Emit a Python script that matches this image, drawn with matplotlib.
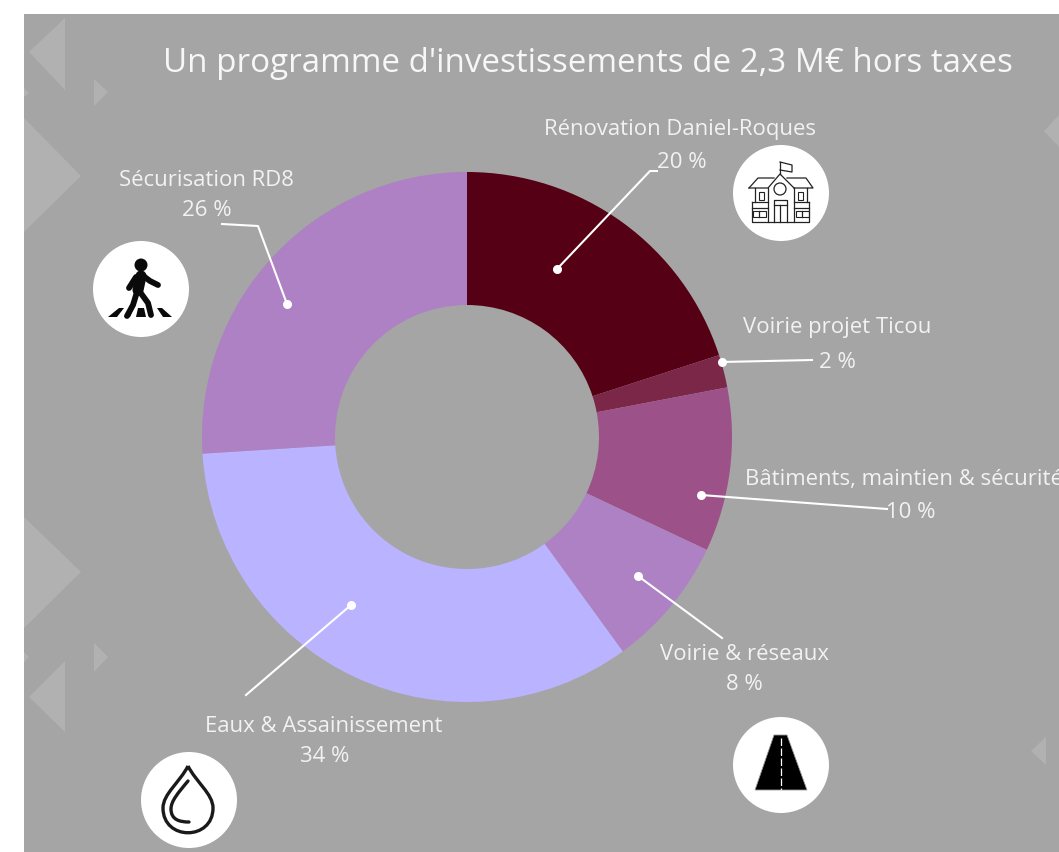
import matplotlib
matplotlib.use('Agg')
import matplotlib.pyplot as plt
from matplotlib.patches import Circle, Polygon, PathPatch
from matplotlib.path import Path

W, H = 1059, 852

title = "Un programme d'investissements de 2,3 M€ hors taxes"
names = ['Rénovation Daniel-Roques', 'Voirie projet Ticou', 'Bâtiments, maintien & sécurité',
         'Voirie & réseaux', 'Eaux & Assainissement', 'Sécurisation RD8']
shares = [20, 2, 10, 8, 34, 26]
colors = ['#550014', '#7a2748', '#9c5289', '#ae80c4', '#bab3ff', '#ae80c4']

plt.rcParams['font.family'] = ['Open Sans', 'DejaVu Sans']


def y(py):
    # picture pixels run downwards, the axes upwards
    return H - py


def pts(*xy):
    return [(a, y(b)) for a, b in xy]


def stroke(seg, **kw):
    p = pts(*seg)
    ax.plot([q[0] for q in p], [q[1] for q in p], **kw)


fig = plt.figure(figsize=(W / 100, H / 100), dpi=100, facecolor='white')
ax = fig.add_axes([0, 0, 1, 1])

# Grey slide background and its faint shapes
ax.add_patch(plt.Rectangle((24, 0), W - 24, H - 14, color='#a5a5a5', lw=0, zorder=0))
faint = [
    ((65, 18), (65, 90), (29, 52)),
    ((94, 79), (94, 106), (108, 92)),
    ((24, 118), (81, 176), (24, 232)),
    ((24, 88), (29, 93), (24, 97)),
    ((24, 517), (81, 572), (24, 628)),
    ((94, 643), (94, 672), (108, 657)),
    ((65, 661), (65, 732), (29, 697)),
    ((24, 652), (29, 657), (24, 662)),
    ((1059, 115), (1044, 131), (1059, 147)),
    ((1046, 737), (1046, 765), (1031, 751)),
]
for tri in faint:
    ax.add_patch(Polygon(pts(*tri), color='#b1b1b1', lw=0, zorder=1))

# Donut
ax.pie(shares, colors=colors, startangle=90, counterclock=False,
       center=(467, y(437)), radius=265, frame=True,
       wedgeprops={'width': 133, 'linewidth': 0, 'zorder': 2})
ax.set_xlim(0, W)
ax.set_ylim(0, H)
ax.axis('off')

ax.text(588, y(63), title, color='#f7f7f7', fontsize=23.9, ha='center', va='center')

# Leader lines, the dot sits inside the slice
leaders = [
    [(557, 269), (650, 171), (657, 171)],
    [(722, 362), (812, 360)],
    [(701, 495), (887, 509)],
    [(638, 576), (722, 638)],
    [(351, 605), (246, 695)],
    [(287, 304), (258, 226), (222, 224)],
]
for line in leaders:
    stroke(line, color='white', lw=1.5, zorder=3)
    p = pts(line[0])[0]
    ax.plot(p[0], p[1], 'o', color='white', ms=6.5, mew=0, zorder=3)

name_pos = [(680, 129), (837, 328), (745, 480), (744, 654), (324, 727), (206, 181)]
share_pos = [(682, 163), (837, 363), (911, 513), (744, 684), (325, 756), (207, 210)]
text_col = '#f2f2f2'
for i, name in enumerate(names):
    ha = 'left' if i == 2 else 'center'
    ax.text(name_pos[i][0], y(name_pos[i][1]), name, color=text_col, fontsize=15.9,
            ha=ha, va='center', clip_on=True)
    ax.text(share_pos[i][0], y(share_pos[i][1]), f'{shares[i]} %', color=text_col,
            fontsize=15.9, ha='center', va='center')

# White icon discs
for cx, cy in [(781, 193), (141, 289), (189, 800), (781, 765)]:
    ax.add_patch(Circle((cx, y(cy)), 48, color='white', lw=0, zorder=4))

# Pedestrian
ink = '#0a0a0a'
ax.add_patch(Circle((141, y(265)), 6.5, color=ink, lw=0, zorder=5))
stroke([(141, 276), (138, 290)], color=ink, lw=8, solid_capstyle='round', zorder=5)
for seg in [[(142, 275), (150, 281), (158, 285)], [(136, 277), (129, 288)],
            [(137, 292), (133, 305), (127, 316)], [(140, 292), (148, 303), (151, 315)]]:
    stroke(seg, color=ink, lw=4.2, solid_capstyle='round', zorder=5)
for stripe in [((108, 317), (119, 308), (124, 308), (117, 317)),
               ((124, 317), (130, 308), (134, 308), (130, 317)),
               ((136, 317), (138, 308), (144, 308), (146, 317)),
               ((157, 308), (162, 308), (172, 317), (163, 317))]:
    ax.add_patch(Polygon(pts(*stripe), color=ink, lw=0, zorder=5))

# School
line_col = '#222222'
school = [
    [(749, 188), (758, 178), (774, 178)],
    [(787, 178), (806, 178), (813, 188), (794, 188)],
    [(749, 188), (768, 188), (780, 174), (794, 188)],
    [(768, 188), (768, 222), (794, 222), (794, 188)],
    [(780, 174), (780, 162)],
    [(780, 162), (792, 165), (792, 172), (780, 170)],
    [(755, 188), (755, 202)],
    [(807, 188), (807, 202)],
    [(752, 202), (768, 202)],
    [(794, 202), (809, 202)],
    [(752, 208), (768, 208)],
    [(794, 208), (809, 208)],
    [(752, 202), (752, 222), (768, 222)],
    [(809, 202), (809, 222), (794, 222)],
    [(774, 222), (774, 200), (787, 200), (787, 222)],
    [(774, 205), (787, 205)],
    [(780, 205), (780, 222)],
    [(759, 211), (759, 217)],
    [(802, 211), (802, 217)],
]
for seg in school:
    stroke(seg, color=line_col, lw=0.9, zorder=5)
ax.add_patch(Circle((780, y(189)), 6, fc='white', ec=line_col, lw=0.9, zorder=5))
for bx, by, bw, bh in [(759, 192, 5, 8), (798, 192, 5, 8), (753, 211, 13, 6), (796, 211, 13, 6)]:
    ax.add_patch(plt.Rectangle((bx, y(by + bh)), bw, bh, fc='none', ec=line_col, lw=0.8, zorder=5))

# Water drop
codes = [Path.MOVETO, Path.CURVE4, Path.CURVE4, Path.CURVE4, Path.CURVE4, Path.CURVE4, Path.CURVE4]
drop = pts((188, 766), (180, 782), (163, 794), (163, 808), (163, 841), (213, 841), (213, 808))
drop += pts((213, 794), (196, 782), (188, 766))
ax.add_patch(PathPatch(Path(drop, codes + [Path.CURVE4] * 3), fc='none', ec='#1a1a1a', lw=2.4,
                       zorder=5))
inner = pts((188, 781), (178, 793), (171, 801), (171, 809), (171, 820), (180, 822), (189, 822))
ax.add_patch(PathPatch(Path(inner, codes), fc='none', ec='#1a1a1a', lw=2.4, capstyle='round',
                       zorder=5))

# Road
ax.add_patch(Polygon(pts((774, 735), (787, 735), (807, 790), (755, 790)), fc='black',
                     ec='#999999', lw=0.6, zorder=5))
stroke([(780.5, 738), (780.5, 790)], color='white', lw=0.9, ls=(0, (6, 2)), zorder=6)

fig.savefig('out.png', dpi=100, facecolor='white')
